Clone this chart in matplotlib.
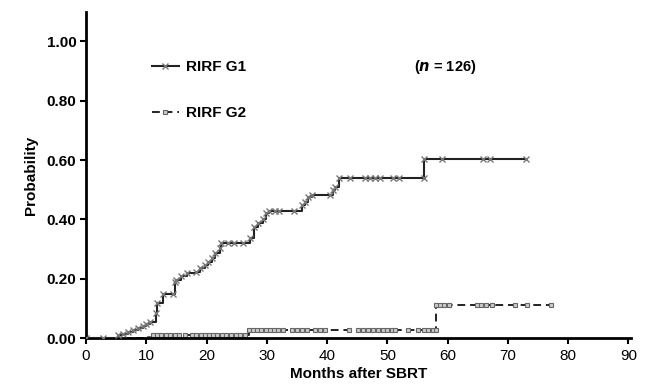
import matplotlib
matplotlib.use("Agg")
import matplotlib.pyplot as plt

plt.rcParams['font.family'] = ['Liberation Sans', 'DejaVu Sans']

# RIRF G1 (months, cumulative probability), marks at each point
g1_t = [0, 2.8, 5.3, 6.2, 7.0, 7.8, 8.6, 9.4, 10.0, 10.6, 11.6, 11.8, 12.8, 14.4,
        14.8, 15.0, 15.8, 16.8, 18.3, 18.9, 19.7, 20.3, 20.9, 21.4, 22.2, 22.4,
        23.5, 24.5, 26.1, 27.2, 27.8, 28.6, 29.3, 29.8, 30.3, 31.4, 32.0, 34.5,
        35.8, 36.3, 36.9, 37.5, 40.5, 41.0, 41.3, 41.9, 43.8, 46.3, 47.1, 48.0,
        48.8, 51.0, 52.0, 56.0, 56.0, 59.0, 65.9, 67.0, 73.0]
g1_p = [0, 0.0, 0.010, 0.015, 0.020, 0.028, 0.035, 0.040, 0.048, 0.055, 0.085, 0.120,
        0.150, 0.150, 0.190, 0.197, 0.210, 0.220, 0.224, 0.236, 0.247, 0.258, 0.270,
        0.286, 0.303, 0.320, 0.320, 0.320, 0.320, 0.337, 0.376, 0.387, 0.400, 0.420,
        0.429, 0.429, 0.429, 0.429, 0.449, 0.460, 0.477, 0.483, 0.483, 0.500, 0.510,
        0.539, 0.539, 0.539, 0.539, 0.539, 0.539, 0.539, 0.539, 0.539, 0.604, 0.604,
        0.604, 0.604, 0.604]

# RIRF G2
g2_t = [0, 10.5, 11.1, 11.8, 12.5, 13.2, 14.0, 14.8, 15.5, 16.4, 17.6, 18.3, 19.0,
        19.7, 20.4, 21.1, 21.8, 22.5, 23.2, 24.0, 24.8, 25.6, 26.4, 27.0, 27.7, 28.4,
        29.1, 29.8, 30.5, 31.2, 31.9, 32.6, 34.2, 35.0, 35.8, 36.6, 38.0, 38.8, 39.6,
        43.6, 45.2, 46.0, 46.8, 47.6, 48.4, 49.2, 50.0, 50.8, 51.3, 53.5, 55.1, 56.0,
        56.8, 57.6, 58.0, 58.0, 58.7, 59.4, 60.2, 64.8, 65.6, 66.4, 67.3, 71.2, 73.1,
        77.2]
g2_p = [0, 0, 0.009, 0.009, 0.009, 0.009, 0.009, 0.009, 0.009, 0.009, 0.009, 0.009,
        0.009, 0.009, 0.009, 0.009, 0.009, 0.009, 0.009, 0.009, 0.009, 0.009, 0.009,
        0.028, 0.028, 0.028, 0.028, 0.028, 0.028, 0.028, 0.028, 0.028, 0.028, 0.028,
        0.028, 0.028, 0.028, 0.028, 0.028, 0.028, 0.028, 0.028, 0.028, 0.028, 0.028,
        0.028, 0.028, 0.028, 0.028, 0.028, 0.028, 0.028, 0.028, 0.028, 0.028, 0.110,
        0.110, 0.110, 0.110, 0.110, 0.110, 0.110, 0.110, 0.110, 0.110, 0.110]

x_ticks = [0, 10, 20, 30, 40, 50, 60, 70, 80, 90]
y_ticks = [0.0, 0.2, 0.4, 0.6, 0.8, 1.0]

fig = plt.figure(figsize=(6.47, 3.90), dpi=100)
ax = fig.add_axes([0.133, 0.133, 0.842, 0.837])

ax.plot(g2_t, g2_p, drawstyle='steps-post', color='#222222', lw=1.4,
        dashes=(4, 2.5), marker='s', ms=3.5, mfc='#cccccc', mec='#666666',
        mew=0.8, label='RIRF G2', zorder=2)
ax.plot(g1_t, g1_p, drawstyle='steps-post', color='#222222', lw=1.5,
        marker='x', ms=4.5, mec='#777777', mew=1.0, label='RIRF G1', zorder=3)

ax.set_xlim(0, 90.4)
ax.set_ylim(0, 1.10)
ax.set_xticks(x_ticks)
ax.set_yticks(y_ticks)
ax.set_yticklabels([f'{v:.2f}' for v in y_ticks], fontweight='bold')
ax.tick_params(axis='both', labelsize=11, length=4, width=1.5, direction='out')
ax.tick_params(axis='y', pad=3)

for s in ['top', 'right']:
    ax.spines[s].set_visible(False)
for s in ['left', 'bottom']:
    ax.spines[s].set_linewidth(2)

ax.set_xlabel('Months after SBRT', fontsize=11, fontweight='bold', labelpad=3)
ax.set_ylabel('Probability', fontsize=11, fontweight='bold', labelpad=6)

h, l = ax.get_legend_handles_labels()
ax.legend(h[::-1], l[::-1], loc='upper left', bbox_to_anchor=(0.095, 0.893),
          frameon=False, prop={'weight': 'bold', 'size': 11},
          handlelength=1.8, labelspacing=2.1, handletextpad=0.45)

ax.text(54.5, 0.915, r'($\boldsymbol{n}$ = 126)', fontsize=10.5, fontweight='bold',
        va='center')

fig.savefig('out.png', dpi=100)
